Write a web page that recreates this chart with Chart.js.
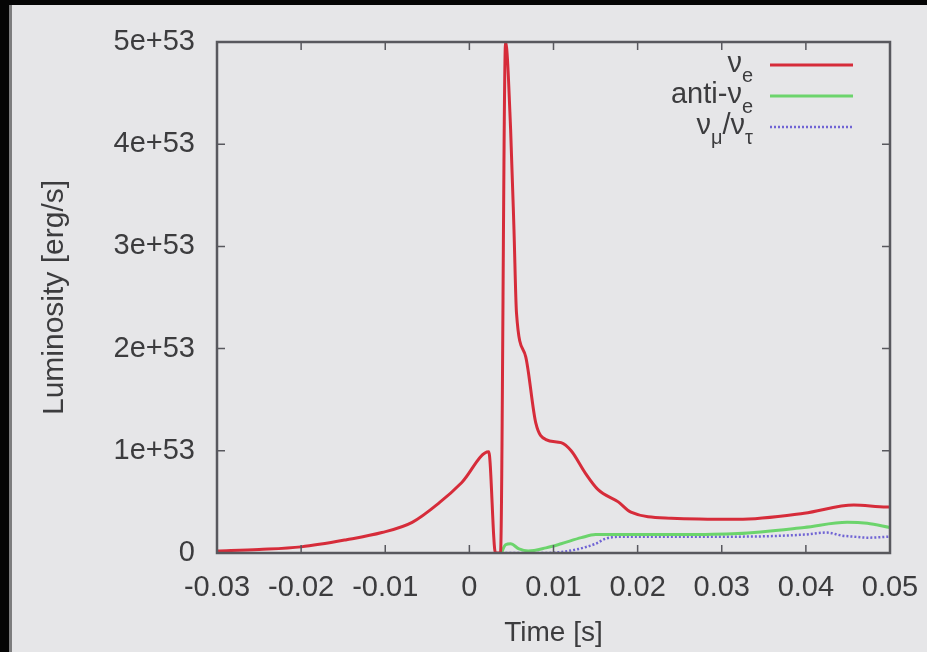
<!DOCTYPE html>
<html>
<head>
<meta charset="utf-8">
<script src="https://cdn.jsdelivr.net/npm/chart.js@4.4.1/dist/chart.umd.min.js"></script>
<style>
  html, body { margin: 0; padding: 0; background: #e6e6e8; overflow: hidden; }
  #chart { display: block; }
</style>
</head>
<body>
<canvas id="chart" width="927" height="652"></canvas>
<script>
// luminosity in units of 1e53 erg/s, time in s
const timeE = [-0.03, -0.025, -0.02, -0.0146, -0.0104, -0.0068, -0.0036, -0.0009, 0.0023, 0.0031, 0.0037,
  0.0043, 0.0049, 0.0053, 0.0056, 0.0067, 0.0079, 0.0091, 0.0109, 0.0121, 0.0138, 0.0153, 0.0177, 0.0192,
  0.0240, 0.0319, 0.0398, 0.0457, 0.0496, 0.05];
const lumE = [0.02, 0.035, 0.06, 0.13, 0.2, 0.30, 0.49, 0.69, 0.99, 0.0, 0.0,
  5.0, 4.15, 3.17, 2.35, 1.92, 1.27, 1.11, 1.08, 1.0, 0.78, 0.62, 0.50, 0.40,
  0.34, 0.33, 0.39, 0.47, 0.45, 0.45];

const timeAnti = [0.0038, 0.0043, 0.0049, 0.0059, 0.0070, 0.0091, 0.0109, 0.0133, 0.0150, 0.0180,
  0.0248, 0.0319, 0.0398, 0.0449, 0.0473, 0.05];
const lumAnti = [0.0, 0.08, 0.09, 0.04, 0.02, 0.05, 0.09, 0.15, 0.18, 0.18,
  0.18, 0.19, 0.25, 0.30, 0.29, 0.25];

const timeMuTau = [0.0038, 0.0091, 0.0109, 0.0130, 0.0150, 0.0162, 0.0180, 0.0248, 0.0319, 0.0398,
  0.0425, 0.0443, 0.0457, 0.0473, 0.05];
const lumMuTau = [0.0, 0.0, 0.01, 0.04, 0.09, 0.14, 0.16, 0.16, 0.16, 0.18,
  0.20, 0.17, 0.16, 0.15, 0.16];

const xTickLabels = ['-0.03', '-0.02', '-0.01', '0', '0.01', '0.02', '0.03', '0.04', '0.05'];
const yTickLabels = ['0', '1e+53', '2e+53', '3e+53', '4e+53', '5e+53'];

// legend text pieces: [text, isSubscript]
const legendParts = [
  [['ν', false], ['e', true]],
  [['anti-ν', false], ['e', true]],
  [['ν', false], ['μ', true], ['/ν', false], ['τ', true]]
];

const FONT = '"Liberation Sans", Arial, sans-serif';
const TEXT = '#3c3c3e';
const BG = '#e6e6e8';

const pts = (xs, ys) => xs.map((x, i) => ({ x, y: ys[i] }));

const frame = {
  id: 'frame',
  beforeDraw(c) {
    const ctx = c.ctx;
    ctx.save();
    ctx.fillStyle = BG;
    ctx.fillRect(0, 0, c.width, c.height);
    ctx.restore();
  },
  afterDraw(c) {
    const ctx = c.ctx;
    const a = c.chartArea;
    const xs = c.scales.x, ys = c.scales.y;
    ctx.save();
    ctx.strokeStyle = '#58585e';
    ctx.lineWidth = 2.5;
    ctx.strokeRect(a.left, a.top, a.right - a.left, a.bottom - a.top);
    ctx.lineWidth = 1.5;
    ctx.beginPath();
    xs.ticks.forEach(t => {
      const px = xs.getPixelForValue(t.value);
      ctx.moveTo(px, a.bottom); ctx.lineTo(px, a.bottom - 8);
      ctx.moveTo(px, a.top); ctx.lineTo(px, a.top + 8);
    });
    ys.ticks.forEach(t => {
      const py = ys.getPixelForValue(t.value);
      ctx.moveTo(a.left, py); ctx.lineTo(a.left + 8, py);
      ctx.moveTo(a.right, py); ctx.lineTo(a.right - 8, py);
    });
    ctx.stroke();

    // legend
    const textRight = 753, lineX0 = 770, lineX1 = 853;
    const rows = [65, 96, 127];
    c.data.datasets.forEach((ds, i) => {
      const y = rows[i];
      const parts = legendParts[i];
      let w = 0;
      parts.forEach(([s, sub]) => {
        ctx.font = (sub ? '20px ' : '29px ') + FONT;
        w += ctx.measureText(s).width;
      });
      let x = textRight - w;
      ctx.fillStyle = TEXT;
      ctx.textBaseline = 'alphabetic';
      parts.forEach(([s, sub]) => {
        ctx.font = (sub ? '20px ' : '29px ') + FONT;
        ctx.fillText(s, x, sub ? y + 17 : y + 7);
        x += ctx.measureText(s).width;
      });
      ctx.strokeStyle = ds.borderColor;
      ctx.lineWidth = ds.borderWidth;
      ctx.setLineDash(ds.borderDash || []);
      ctx.beginPath();
      ctx.moveTo(lineX0, y);
      ctx.lineTo(lineX1, y);
      ctx.stroke();
      ctx.setLineDash([]);
    });

    // photo frame: dark edge top and left, light grey on the right
    ctx.fillStyle = BG;
    ctx.fillRect(c.width - 8, 0, 8, c.height);
    ctx.fillStyle = '#050505';
    ctx.fillRect(0, 0, c.width, 5);
    ctx.fillRect(0, 0, 9, c.height);
    ctx.fillStyle = 'rgba(20,20,20,0.5)';
    ctx.fillRect(9, 5, 3, c.height);
    ctx.restore();
  }
};

new Chart(document.getElementById('chart'), {
  type: 'line',
  data: {
    datasets: [
      {
        label: 'nu_e',
        data: pts(timeE, lumE),
        borderColor: 'rgb(214,44,58)',
        borderWidth: 3,
        pointRadius: 0,
        cubicInterpolationMode: 'monotone'
      },
      {
        label: 'anti-nu_e',
        data: pts(timeAnti, lumAnti),
        borderColor: 'rgb(108,212,108)',
        borderWidth: 3,
        pointRadius: 0,
        cubicInterpolationMode: 'monotone'
      },
      {
        label: 'nu_mu/nu_tau',
        data: pts(timeMuTau, lumMuTau),
        borderColor: 'rgb(112,100,212)',
        borderWidth: 2.5,
        borderDash: [2, 2],
        pointRadius: 0,
        cubicInterpolationMode: 'monotone'
      }
    ]
  },
  options: {
    responsive: false,
    animation: false,
    devicePixelRatio: 1,
    layout: { padding: { left: 0, top: 42, right: 37, bottom: 0 } },
    plugins: { legend: { display: false }, tooltip: { enabled: false } },
    scales: {
      x: {
        type: 'linear',
        min: -0.03,
        max: 0.05,
        afterBuildTicks: s => { s.ticks = xTickLabels.map(v => ({ value: parseFloat(v) })); },
        afterFit: s => { s.height = 99; s.paddingRight = 0; s.paddingLeft = 0; },
        grid: { display: false, drawTicks: false },
        border: { display: false },
        ticks: {
          padding: 18,
          maxRotation: 0,
          autoSkip: false,
          color: TEXT,
          font: { family: FONT, size: 29 },
          callback: (v, i) => xTickLabels[i]
        },
        title: {
          display: true,
          text: 'Time [s]',
          color: TEXT,
          font: { family: FONT, size: 28 },
          padding: { top: 0, bottom: 2 }
        }
      },
      y: {
        min: 0,
        max: 5,
        afterBuildTicks: s => { s.ticks = yTickLabels.map((v, i) => ({ value: i })); },
        afterFit: s => { s.width = 217; s.paddingTop = 0; s.paddingBottom = 0; },
        grid: { display: false, drawTicks: false },
        border: { display: false },
        ticks: {
          padding: 22,
          autoSkip: false,
          color: TEXT,
          font: { family: FONT, size: 29 },
          callback: (v, i) => yTickLabels[i]
        },
        title: {
          display: true,
          text: 'Luminosity [erg/s]',
          color: TEXT,
          font: { family: FONT, size: 30 },
          padding: { top: 37, bottom: 0 }
        }
      }
    }
  },
  plugins: [frame]
});
</script>
</body>
</html>
